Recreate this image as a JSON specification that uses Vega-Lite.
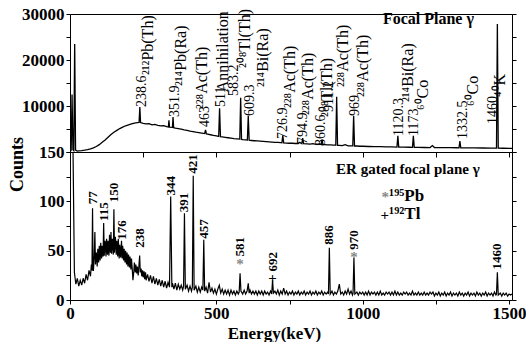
{
  "$schema": "https://vega.github.io/schema/vega-lite/v6.json",
  "background": "white",
  "padding": {"left": 7, "top": 4, "right": 5, "bottom": 0},
  "spacing": 0,
  "bounds": "flush",
  "config": {
    "view": {"stroke": "black", "strokeWidth": 1},
    "axis": {
      "grid": false, "domainColor": "black", "tickColor": "black", "tickSize": 4,
      "labelFont": "Liberation Serif", "labelFontWeight": "bold", "labelFontSize": 17, "labelColor": "black",
      "titleFont": "Liberation Serif", "titleFontWeight": "bold", "titleFontSize": 17, "titleColor": "black",
      "labelFlush": false, "labelOverlap": false
    }
  },
  "datasets": {
    "top": [
      {"e":0,"c":100},{"e":4,"c":400},{"e":7,"c":12500},{"e":10,"c":500},{"e":13,"c":300},{"e":16,"c":23500},{"e":19,"c":400},{"e":25,"c":200},{"e":30,"c":250},{"e":40,"c":300},{"e":50,"c":400},{"e":60,"c":520},{"e":70,"c":700},{"e":80,"c":900},{"e":90,"c":1200},{"e":100,"c":1600},{"e":110,"c":2100},{"e":120,"c":2600},{"e":130,"c":3200},{"e":140,"c":3800},{"e":150,"c":4300},{"e":160,"c":4700},{"e":170,"c":5100},{"e":180,"c":5400},{"e":190,"c":5700},{"e":200,"c":5900},{"e":210,"c":6100},{"e":220,"c":6300},{"e":230,"c":6400},{"e":236,"c":6450},{"e":238.6,"c":9800},{"e":241,"c":6400},{"e":250,"c":6200},{"e":260,"c":6100},{"e":270,"c":6150},{"e":280,"c":5900},{"e":290,"c":6000},{"e":300,"c":5800},{"e":310,"c":5700},{"e":320,"c":5750},{"e":330,"c":5500},{"e":336,"c":5450},{"e":338,"c":6900},{"e":340,"c":5400},{"e":350,"c":5350},{"e":352,"c":7600},{"e":354,"c":5300},{"e":360,"c":5200},{"e":370,"c":5100},{"e":380,"c":4950},{"e":390,"c":4800},{"e":400,"c":4700},{"e":410,"c":4550},{"e":420,"c":4450},{"e":430,"c":4300},{"e":440,"c":4200},{"e":450,"c":4100},{"e":460,"c":4000},{"e":463,"c":4800},{"e":466,"c":3950},{"e":470,"c":3900},{"e":480,"c":3750},{"e":490,"c":3600},{"e":500,"c":3500},{"e":508,"c":3400},{"e":511,"c":9500},{"e":514,"c":3350},{"e":520,"c":3300},{"e":530,"c":3200},{"e":540,"c":3100},{"e":550,"c":3000},{"e":560,"c":2900},{"e":570,"c":2850},{"e":580,"c":2800},{"e":583,"c":11800},{"e":586,"c":2750},{"e":590,"c":2700},{"e":600,"c":2650},{"e":606,"c":2600},{"e":609,"c":7900},{"e":612,"c":2550},{"e":620,"c":2500},{"e":630,"c":2450},{"e":640,"c":2400},{"e":650,"c":2350},{"e":660,"c":2300},{"e":670,"c":2250},{"e":680,"c":2200},{"e":690,"c":2150},{"e":700,"c":2100},{"e":710,"c":2100},{"e":720,"c":2050},{"e":724,"c":2000},{"e":727,"c":3600},{"e":730,"c":2000},{"e":740,"c":1950},{"e":750,"c":1900},{"e":760,"c":1900},{"e":770,"c":1850},{"e":780,"c":1850},{"e":785,"c":2100},{"e":792,"c":1800},{"e":795,"c":3000},{"e":798,"c":1800},{"e":810,"c":1750},{"e":820,"c":1700},{"e":830,"c":1800},{"e":840,"c":1650},{"e":850,"c":1700},{"e":858,"c":1650},{"e":861,"c":2700},{"e":864,"c":1600},{"e":870,"c":1600},{"e":880,"c":1550},{"e":890,"c":1550},{"e":900,"c":1500},{"e":908,"c":1500},{"e":911,"c":12000},{"e":914,"c":1450},{"e":920,"c":1450},{"e":930,"c":1400},{"e":940,"c":1600},{"e":950,"c":1350},{"e":960,"c":1350},{"e":966,"c":1350},{"e":969,"c":7900},{"e":972,"c":1300},{"e":980,"c":1300},{"e":990,"c":1250},{"e":1000,"c":1250},{"e":1020,"c":1200},{"e":1040,"c":1150},{"e":1060,"c":1150},{"e":1080,"c":1100},{"e":1100,"c":1100},{"e":1117,"c":1080},{"e":1120,"c":3500},{"e":1123,"c":1060},{"e":1140,"c":1050},{"e":1160,"c":1030},{"e":1170,"c":1020},{"e":1173,"c":3500},{"e":1176,"c":1000},{"e":1190,"c":1000},{"e":1210,"c":980},{"e":1230,"c":970},{"e":1238,"c":1400},{"e":1245,"c":960},{"e":1260,"c":950},{"e":1280,"c":940},{"e":1300,"c":930},{"e":1320,"c":920},{"e":1329,"c":910},{"e":1332,"c":2400},{"e":1335,"c":900},{"e":1350,"c":890},{"e":1380,"c":880},{"e":1410,"c":870},{"e":1440,"c":860},{"e":1457,"c":860},{"e":1460,"c":27800},{"e":1463,"c":850},{"e":1480,"c":820},{"e":1500,"c":800},{"e":1510,"c":780}
    ],
    "bot": [
      {"e":0,"c":400},{"e":5,"c":300},{"e":10,"c":160},{"e":15,"c":28},{"e":20,"c":16},{"e":25,"c":22},{"e":30,"c":14},{"e":35,"c":20},{"e":40,"c":15},{"e":45,"c":22},{"e":50,"c":17},{"e":55,"c":26},{"e":60,"c":20},{"e":65,"c":30},{"e":70,"c":24},{"e":73,"c":36},{"e":75,"c":30},{"e":77,"c":93},{"e":79,"c":30},{"e":80,"c":30},{"e":83,"c":45},{"e":85,"c":69},{"e":87,"c":36},{"e":90,"c":48},{"e":93,"c":34},{"e":95,"c":52},{"e":98,"c":38},{"e":100,"c":55},{"e":103,"c":40},{"e":105,"c":58},{"e":108,"c":42},{"e":110,"c":55},{"e":113,"c":44},{"e":115,"c":78},{"e":117,"c":45},{"e":120,"c":60},{"e":123,"c":44},{"e":125,"c":62},{"e":128,"c":46},{"e":130,"c":60},{"e":133,"c":45},{"e":135,"c":66},{"e":138,"c":48},{"e":140,"c":69},{"e":142,"c":47},{"e":145,"c":62},{"e":148,"c":46},{"e":150,"c":92},{"e":152,"c":48},{"e":155,"c":64},{"e":158,"c":46},{"e":160,"c":60},{"e":163,"c":44},{"e":165,"c":62},{"e":168,"c":42},{"e":170,"c":56},{"e":173,"c":43},{"e":176,"c":60},{"e":178,"c":42},{"e":180,"c":55},{"e":183,"c":40},{"e":185,"c":52},{"e":188,"c":38},{"e":190,"c":50},{"e":193,"c":36},{"e":195,"c":48},{"e":198,"c":34},{"e":200,"c":46},{"e":203,"c":33},{"e":205,"c":44},{"e":208,"c":31},{"e":210,"c":42},{"e":213,"c":30},{"e":215,"c":20},{"e":218,"c":29},{"e":220,"c":38},{"e":223,"c":28},{"e":225,"c":36},{"e":228,"c":27},{"e":230,"c":34},{"e":233,"c":25},{"e":235,"c":33},{"e":238,"c":45},{"e":240,"c":28},{"e":243,"c":32},{"e":245,"c":24},{"e":248,"c":30},{"e":250,"c":23},{"e":253,"c":29},{"e":255,"c":21},{"e":258,"c":28},{"e":260,"c":20},{"e":265,"c":26},{"e":270,"c":19},{"e":275,"c":25},{"e":280,"c":17},{"e":285,"c":24},{"e":290,"c":16},{"e":295,"c":22},{"e":300,"c":15},{"e":305,"c":21},{"e":310,"c":14},{"e":315,"c":20},{"e":320,"c":13},{"e":325,"c":19},{"e":330,"c":12},{"e":335,"c":18},{"e":340,"c":13},{"e":344,"c":105},{"e":348,"c":13},{"e":350,"c":17},{"e":355,"c":11},{"e":360,"c":17},{"e":365,"c":10},{"e":370,"c":16},{"e":375,"c":11},{"e":380,"c":15},{"e":385,"c":10},{"e":388,"c":14},{"e":391,"c":88},{"e":394,"c":11},{"e":400,"c":15},{"e":405,"c":9},{"e":410,"c":14},{"e":415,"c":9},{"e":418,"c":13},{"e":421,"c":126},{"e":424,"c":10},{"e":430,"c":14},{"e":435,"c":8},{"e":440,"c":13},{"e":445,"c":8},{"e":450,"c":13},{"e":454,"c":10},{"e":457,"c":61},{"e":460,"c":9},{"e":465,"c":13},{"e":470,"c":7},{"e":475,"c":18},{"e":480,"c":8},{"e":485,"c":12},{"e":490,"c":7},{"e":495,"c":11},{"e":500,"c":6},{"e":505,"c":11},{"e":510,"c":15},{"e":515,"c":7},{"e":520,"c":11},{"e":525,"c":6},{"e":530,"c":10},{"e":535,"c":6},{"e":540,"c":10},{"e":545,"c":5},{"e":550,"c":10},{"e":555,"c":6},{"e":560,"c":9},{"e":565,"c":5},{"e":570,"c":9},{"e":575,"c":6},{"e":578,"c":8},{"e":581,"c":27},{"e":584,"c":9},{"e":590,"c":6},{"e":595,"c":10},{"e":600,"c":6},{"e":605,"c":9},{"e":609,"c":17},{"e":612,"c":7},{"e":615,"c":10},{"e":620,"c":6},{"e":625,"c":9},{"e":630,"c":6},{"e":635,"c":9},{"e":640,"c":5},{"e":645,"c":9},{"e":650,"c":6},{"e":655,"c":9},{"e":660,"c":5},{"e":665,"c":9},{"e":670,"c":6},{"e":675,"c":8},{"e":680,"c":5},{"e":685,"c":9},{"e":689,"c":6},{"e":692,"c":20},{"e":695,"c":7},{"e":700,"c":9},{"e":705,"c":6},{"e":710,"c":10},{"e":715,"c":5},{"e":720,"c":9},{"e":725,"c":6},{"e":730,"c":12},{"e":735,"c":6},{"e":740,"c":9},{"e":745,"c":5},{"e":750,"c":8},{"e":755,"c":6},{"e":760,"c":9},{"e":765,"c":5},{"e":770,"c":8},{"e":775,"c":6},{"e":780,"c":9},{"e":785,"c":5},{"e":790,"c":8},{"e":795,"c":6},{"e":800,"c":9},{"e":805,"c":5},{"e":810,"c":8},{"e":815,"c":6},{"e":820,"c":9},{"e":825,"c":5},{"e":830,"c":8},{"e":835,"c":6},{"e":840,"c":9},{"e":845,"c":5},{"e":850,"c":8},{"e":855,"c":6},{"e":860,"c":9},{"e":865,"c":5},{"e":870,"c":8},{"e":875,"c":6},{"e":880,"c":8},{"e":883,"c":6},{"e":886,"c":53},{"e":889,"c":6},{"e":895,"c":9},{"e":900,"c":5},{"e":905,"c":8},{"e":910,"c":6},{"e":915,"c":9},{"e":920,"c":16},{"e":925,"c":6},{"e":930,"c":8},{"e":935,"c":5},{"e":940,"c":9},{"e":945,"c":6},{"e":950,"c":11},{"e":955,"c":6},{"e":960,"c":9},{"e":965,"c":5},{"e":967,"c":7},{"e":970,"c":43},{"e":973,"c":6},{"e":980,"c":8},{"e":985,"c":5},{"e":990,"c":8},{"e":995,"c":6},{"e":1000,"c":8},{"e":1005,"c":5},{"e":1010,"c":8},{"e":1015,"c":5},{"e":1020,"c":9},{"e":1025,"c":5},{"e":1030,"c":8},{"e":1035,"c":6},{"e":1040,"c":8},{"e":1045,"c":5},{"e":1050,"c":8},{"e":1055,"c":5},{"e":1060,"c":9},{"e":1065,"c":5},{"e":1070,"c":7},{"e":1075,"c":5},{"e":1080,"c":8},{"e":1085,"c":6},{"e":1090,"c":8},{"e":1095,"c":5},{"e":1100,"c":8},{"e":1105,"c":5},{"e":1110,"c":9},{"e":1115,"c":5},{"e":1120,"c":8},{"e":1125,"c":5},{"e":1130,"c":7},{"e":1135,"c":5},{"e":1140,"c":8},{"e":1145,"c":6},{"e":1150,"c":8},{"e":1155,"c":5},{"e":1160,"c":7},{"e":1165,"c":5},{"e":1170,"c":9},{"e":1175,"c":5},{"e":1180,"c":7},{"e":1185,"c":5},{"e":1190,"c":8},{"e":1195,"c":5},{"e":1200,"c":7},{"e":1205,"c":5},{"e":1210,"c":8},{"e":1215,"c":5},{"e":1220,"c":7},{"e":1225,"c":5},{"e":1230,"c":8},{"e":1235,"c":6},{"e":1240,"c":8},{"e":1245,"c":4},{"e":1250,"c":7},{"e":1255,"c":5},{"e":1260,"c":8},{"e":1265,"c":4},{"e":1270,"c":7},{"e":1275,"c":5},{"e":1280,"c":8},{"e":1285,"c":4},{"e":1290,"c":7},{"e":1295,"c":5},{"e":1300,"c":8},{"e":1305,"c":4},{"e":1310,"c":7},{"e":1315,"c":5},{"e":1320,"c":7},{"e":1325,"c":4},{"e":1330,"c":8},{"e":1335,"c":5},{"e":1340,"c":7},{"e":1345,"c":4},{"e":1350,"c":7},{"e":1355,"c":5},{"e":1360,"c":8},{"e":1365,"c":4},{"e":1370,"c":7},{"e":1375,"c":5},{"e":1380,"c":7},{"e":1385,"c":4},{"e":1390,"c":8},{"e":1395,"c":5},{"e":1400,"c":7},{"e":1405,"c":4},{"e":1410,"c":7},{"e":1415,"c":5},{"e":1420,"c":8},{"e":1425,"c":4},{"e":1430,"c":7},{"e":1435,"c":5},{"e":1440,"c":7},{"e":1445,"c":4},{"e":1450,"c":8},{"e":1455,"c":5},{"e":1457,"c":6},{"e":1460,"c":28},{"e":1463,"c":5},{"e":1470,"c":7},{"e":1475,"c":4},{"e":1480,"c":7},{"e":1485,"c":5},{"e":1490,"c":7},{"e":1495,"c":4},{"e":1500,"c":6},{"e":1505,"c":5},{"e":1510,"c":6}
    ],
    "topnum": [
      {"e":246,"y":9780,"t":"238.6"},
      {"e":359,"y":7600,"t":"351.9"},
      {"e":461,"y":5430,"t":"463"},
      {"e":516,"y":9780,"t":"511"},
      {"e":560,"y":12170,"t":"583.2"},
      {"e":615,"y":7830,"t":"609.3"},
      {"e":728,"y":2830,"t":"726.9"},
      {"e":796,"y":1740,"t":"794.9"},
      {"e":858,"y":1300,"t":"860.6"},
      {"e":885,"y":8700,"t":"911.2"},
      {"e":974,"y":7830,"t":"969"},
      {"e":1124,"y":3480,"t":"1120.3"},
      {"e":1175,"y":3480,"t":"1173"},
      {"e":1343,"y":2830,"t":"1332.5"},
      {"e":1445,"y":6090,"t":"1460"}
    ],
    "topel": [
      {"e":266,"y":16740,"t":"²¹²Pb(Th)"},
      {"e":379,"y":14350,"t":"²¹⁴Pb(Ra)"},
      {"e":451,"y":9350,"t":"²²⁸Ac(Th)"},
      {"e":523,"y":13000,"t":"Annihilation"},
      {"e":598,"y":18260,"t":"²⁰⁸Tl(Th)"},
      {"e":659,"y":14130,"t":"²¹⁴Bi(Ra)"},
      {"e":752,"y":9570,"t":"²²⁸Ac(Th)"},
      {"e":813,"y":8040,"t":"²²⁸Ac(Th)"},
      {"e":878,"y":7600,"t":"²⁰⁸Tl(Th)"},
      {"e":933,"y":14130,"t":"²²⁸Ac(Th)"},
      {"e":1001,"y":11960,"t":"²²⁸Ac(Th)"},
      {"e":1155,"y":10870,"t":"²¹⁴Bi(Ra)"},
      {"e":1206,"y":9130,"t":"⁶⁰Co"},
      {"e":1377,"y":10000,"t":"⁶⁰Co"},
      {"e":1469,"y":11960,"t":"⁴⁰K"}
    ],
    "topnote": [
      {"e":1069,"y":28900,"t":"Focal Plane γ"}
    ],
    "botlab": [
      {"e":77,"y":97,"t":"77"},{"e":115,"y":80,"t":"115"},{"e":150,"y":99,"t":"150"},{"e":176,"y":61,"t":"176"},{"e":238,"y":53,"t":"238"},{"e":344,"y":106,"t":"344"},{"e":391,"y":89,"t":"391"},{"e":421,"y":128,"t":"421"},{"e":457,"y":62,"t":"457"},{"e":581,"y":44,"t":"581"},{"e":692,"y":29,"t":"692"},{"e":886,"y":56,"t":"886"},{"e":970,"y":51,"t":"970"},{"e":1460,"y":31,"t":"1460"}
    ],
    "botsym": [
      {"e":581,"y":36,"t":"*"},{"e":970,"y":44,"t":"*"},{"e":692,"y":22,"t":"+"},{"e":1077,"y":104,"t":"*"},{"e":1075,"y":86,"t":"+"}
    ],
    "botnote": [
      {"e":909,"y":133,"t":"ER gated focal plane γ"}
    ],
    "botleg": [
      {"e":1090,"y":105,"t":"¹⁹⁵Pb"},{"e":1090,"y":87,"t":"¹⁹²Tl"}
    ]
  },
  "vconcat": [
    {
      "width": 442, "height": 138,
      "layer": [
        {
          "data": {"name": "top"},
          "mark": {"type": "line", "color": "black", "strokeWidth": 1.3, "clip": true},
          "encoding": {
            "x": {"field": "e", "type": "quantitative", "scale": {"domain": [0, 1510], "nice": false, "zero": false},
                  "axis": {"values": [0,250,500,750,1000,1250,1500], "labels": false, "title": null, "domain": false, "tickSize": 5}},
            "y": {"field": "c", "type": "quantitative", "scale": {"domain": [0, 30000], "nice": false},
                  "axis": {"orient": "left", "values": [0,5000,10000,15000,20000,25000,30000], "format": "d",
                           "labelExpr": "datum.value % 10000 == 0 && datum.value > 0 ? datum.label : ''", "title": null, "domain": false}}
          }
        },
        {
          "data": {"name": "topnum"},
          "mark": {"type": "text", "angle": 270, "align": "left", "baseline": "middle", "font": "Liberation Serif", "fontSize": 14, "color": "black"},
          "encoding": {
            "x": {"field": "e", "type": "quantitative"},
            "y": {"field": "y", "type": "quantitative",
                  "axis": {"orient": "right", "values": [0,5000,10000,15000,20000,25000,30000], "labels": false, "title": null, "domain": false}},
            "text": {"field": "t"}
          }
        },
        {
          "data": {"name": "topel"},
          "mark": {"type": "text", "angle": 270, "align": "left", "baseline": "middle", "font": "Liberation Serif", "fontSize": 16, "color": "black"},
          "encoding": {
            "x": {"field": "e", "type": "quantitative"},
            "y": {"field": "y", "type": "quantitative", "axis": null},
            "text": {"field": "t"}
          }
        },
        {
          "data": {"name": "topnote"},
          "mark": {"type": "text", "align": "left", "baseline": "middle", "font": "Liberation Serif", "fontWeight": "bold", "fontSize": 16, "color": "black"},
          "encoding": {
            "x": {"field": "e", "type": "quantitative"},
            "y": {"field": "y", "type": "quantitative", "axis": null},
            "text": {"field": "t"}
          }
        }
      ],
      "resolve": {"axis": {"y": "independent"}}
    },
    {
      "width": 442, "height": 148,
      "layer": [
        {
          "data": {"name": "bot"},
          "mark": {"type": "line", "color": "black", "strokeWidth": 1.2, "clip": true},
          "encoding": {
            "x": {"field": "e", "type": "quantitative", "scale": {"domain": [0, 1510], "nice": false, "zero": false},
                  "axis": {"values": [0,250,500,750,1000,1250,1500], "format": "d", "labelExpr": "datum.value % 500 == 0 ? datum.label : ''",
                           "title": "Energy(keV)", "titlePadding": 4, "titleX": 204, "labelPadding": 1, "domain": false}},
            "y": {"field": "c", "type": "quantitative", "scale": {"domain": [0, 150], "nice": false},
                  "axis": {"orient": "left", "values": [0,25,50,75,100,125,150], "format": "d",
                           "labelExpr": "datum.value % 50 == 0 ? datum.label : ''", "title": "Counts", "titleX": -44, "titleY": 12, "titleFontSize": 18, "domain": false}}
          }
        },
        {
          "data": {"name": "botlab"},
          "mark": {"type": "text", "angle": 270, "align": "left", "baseline": "middle", "font": "Liberation Serif", "fontWeight": "bold", "fontSize": 13, "color": "black"},
          "encoding": {
            "x": {"field": "e", "type": "quantitative"},
            "y": {"field": "y", "type": "quantitative",
                  "axis": {"orient": "right", "values": [0,25,50,75,100,125,150], "labels": false, "title": null, "domain": false}},
            "text": {"field": "t"}
          }
        },
        {
          "data": {"name": "botsym"},
          "mark": {"type": "text", "align": "center", "baseline": "middle", "font": "Liberation Serif", "fontWeight": "bold", "fontSize": 15},
          "encoding": {
            "x": {"field": "e", "type": "quantitative"},
            "y": {"field": "y", "type": "quantitative", "axis": null},
            "color": {"field": "t", "type": "nominal", "scale": {"domain": ["*", "+"], "range": ["#888888", "black"]}, "legend": null},
            "text": {"field": "t"}
          }
        },
        {
          "data": {"name": "botnote"},
          "mark": {"type": "text", "align": "left", "baseline": "middle", "font": "Liberation Serif", "fontWeight": "bold", "fontSize": 15, "color": "black"},
          "encoding": {
            "x": {"field": "e", "type": "quantitative"},
            "y": {"field": "y", "type": "quantitative", "axis": null},
            "text": {"field": "t"}
          }
        },
        {
          "data": {"name": "botleg"},
          "mark": {"type": "text", "align": "left", "baseline": "middle", "font": "Liberation Serif", "fontWeight": "bold", "fontSize": 17, "color": "black"},
          "encoding": {
            "x": {"field": "e", "type": "quantitative"},
            "y": {"field": "y", "type": "quantitative", "axis": null},
            "text": {"field": "t"}
          }
        }
      ],
      "resolve": {"axis": {"y": "independent"}}
    }
  ]
}
